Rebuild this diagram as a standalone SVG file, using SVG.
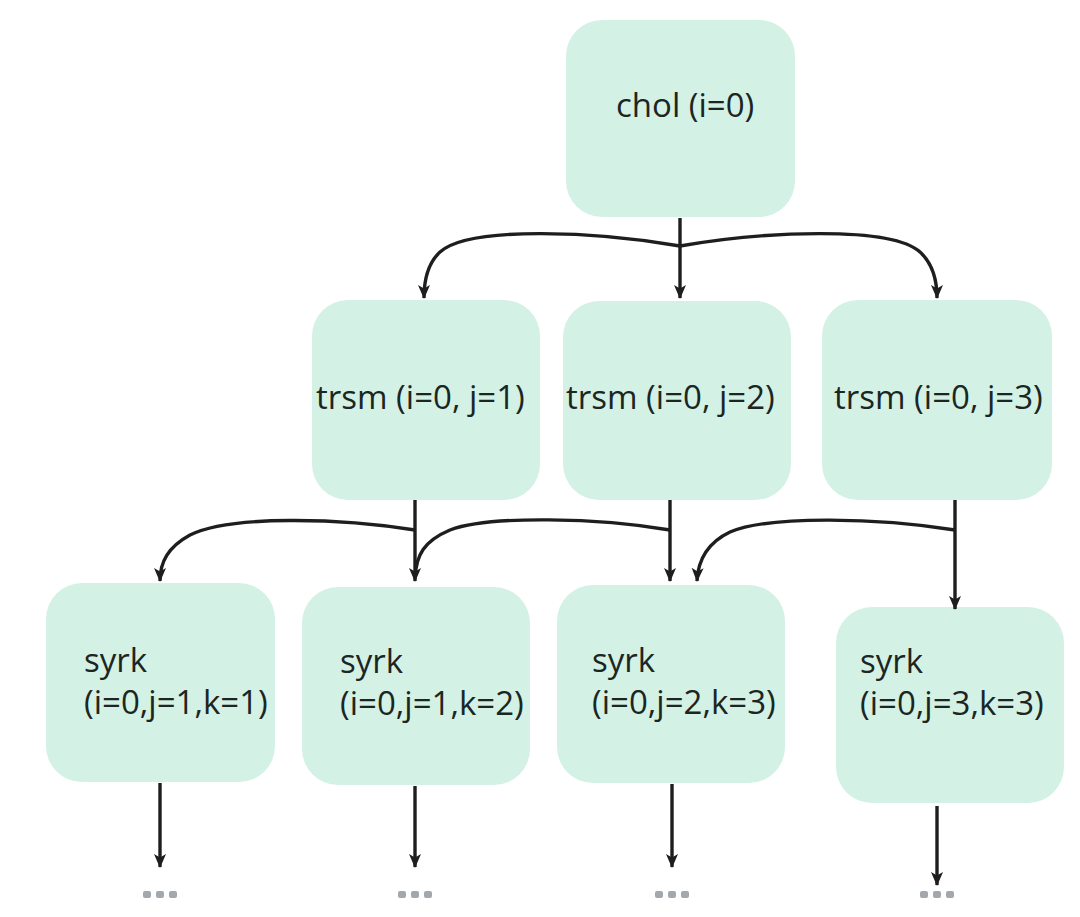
<svg xmlns="http://www.w3.org/2000/svg" width="1080" height="917" viewBox="0 0 1080 917">
<style>
.box{fill:#d4f1e6;}
.t{font-family:"Open Sans","Noto Sans",sans-serif;font-size:33px;fill:#1b2622;}
.c{fill:none;stroke:#1e1e1e;stroke-width:3.4;}
.dot{fill:#a3a8ad;}
</style>
<defs>
<marker id="ah" viewBox="0 0 14 14" refX="13" refY="7" markerWidth="14" markerHeight="14" markerUnits="userSpaceOnUse" orient="auto">
<path d="M0,1 L14,7 L0,13 L3.5,7 Z" fill="#1e1e1e"/>
</marker>
</defs>
<rect width="1080" height="917" fill="#ffffff"/>
<g id="n-chol"><rect class="box" x="566" y="20" width="229" height="197" rx="36"/><text class="t" x="616" y="117">chol (i=0)</text></g>
<g id="n-trsm1"><rect class="box" x="312" y="300" width="228" height="200" rx="36"/><text class="t" x="316" y="409">trsm (i=0, j=1)</text></g>
<g id="n-trsm2"><rect class="box" x="563" y="301" width="228" height="199" rx="36"/><text class="t" x="566" y="409">trsm (i=0, j=2)</text></g>
<g id="n-trsm3"><rect class="box" x="822" y="300" width="230" height="200" rx="36"/><text class="t" x="834" y="409">trsm (i=0, j=3)</text></g>
<g id="n-syrk1"><rect class="box" x="46" y="583" width="229" height="199" rx="36"/><text class="t" x="84" y="672">syrk</text><text class="t" x="84" y="714">(i=0,j=1,k=1)</text></g>
<g id="n-syrk2"><rect class="box" x="302" y="587" width="228" height="198" rx="36"/><text class="t" x="340" y="673">syrk</text><text class="t" x="340" y="715">(i=0,j=1,k=2)</text></g>
<g id="n-syrk3"><rect class="box" x="557" y="585" width="228" height="198" rx="36"/><text class="t" x="592" y="672">syrk</text><text class="t" x="592" y="714">(i=0,j=2,k=3)</text></g>
<g id="n-syrk4"><rect class="box" x="836" y="607" width="228" height="196" rx="36"/><text class="t" x="860" y="673">syrk</text><text class="t" x="860" y="715">(i=0,j=3,k=3)</text></g>
<g id="connectors">
<path class="c" d="M680,218 V298" marker-end="url(#ah)"/>
<path class="c" d="M680,246 C600,232 470,225 440,252 C428,263 424,278 424,298" marker-end="url(#ah)"/>
<path class="c" d="M680,246 C760,232 890,225 920,252 C932,263 937,278 937,298" marker-end="url(#ah)"/>
<path class="c" d="M415,500 V581" marker-end="url(#ah)"/>
<path class="c" d="M415,530 C340,518 230,515 190,535 C168,547 160,562 160,581" marker-end="url(#ah)"/>
<path class="c" d="M670,500 V581" marker-end="url(#ah)"/>
<path class="c" d="M670,530 C600,518 490,515 450,530 C424,541 416,555 415,578"/>
<path class="c" d="M955,500 V609" marker-end="url(#ah)"/>
<path class="c" d="M955,530 C880,518 770,515 730,532 C707,543 698,560 697,581" marker-end="url(#ah)"/>
<path class="c" d="M160,783 V867" marker-end="url(#ah)"/>
<path class="c" d="M415,786 V867" marker-end="url(#ah)"/>
<path class="c" d="M672,784 V867" marker-end="url(#ah)"/>
<path class="c" d="M937,806 V885" marker-end="url(#ah)"/>
</g>
<g id="dots">
<rect class="dot" x="143" y="891" width="8" height="7" rx="2"/><rect class="dot" x="156" y="891" width="8" height="7" rx="2"/><rect class="dot" x="169" y="891" width="8" height="7" rx="2"/>
<rect class="dot" x="398" y="891" width="8" height="7" rx="2"/><rect class="dot" x="411" y="891" width="8" height="7" rx="2"/><rect class="dot" x="424" y="891" width="8" height="7" rx="2"/>
<rect class="dot" x="655" y="891" width="8" height="7" rx="2"/><rect class="dot" x="668" y="891" width="8" height="7" rx="2"/><rect class="dot" x="681" y="891" width="8" height="7" rx="2"/>
<rect class="dot" x="920" y="891" width="8" height="7" rx="2"/><rect class="dot" x="933" y="891" width="8" height="7" rx="2"/><rect class="dot" x="946" y="891" width="8" height="7" rx="2"/>
</g>
</svg>
